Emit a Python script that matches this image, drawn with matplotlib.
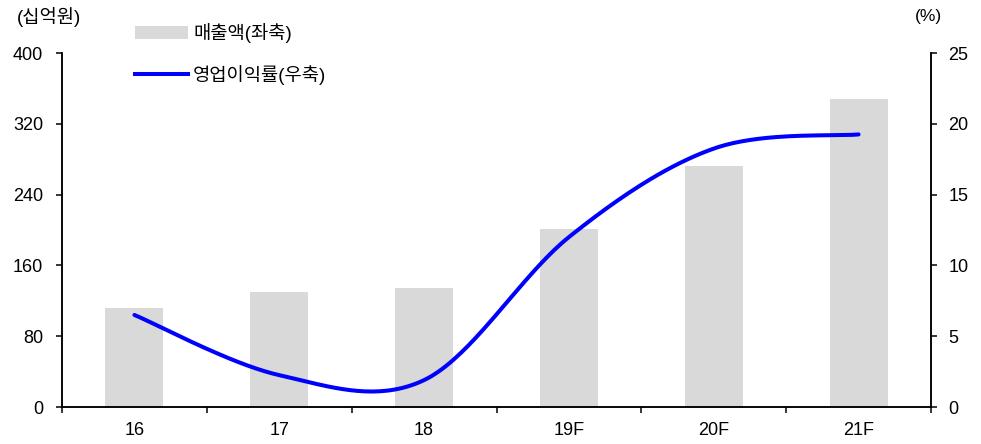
import numpy as np
import matplotlib
matplotlib.use('Agg')
import matplotlib.pyplot as plt
from matplotlib.patches import Patch
from matplotlib.lines import Line2D

plt.rcParams['font.family'] = ['Liberation Sans', 'Noto Sans CJK KR', 'DejaVu Sans']

years = ['16', '17', '18', '19F', '20F', '21F']
sales = [112, 130, 134.5, 201, 272, 348]          # 매출액, 십억원
margin = [6.5, 2.25, 1.9, 12.0, 18.25, 19.25]      # 영업이익률, %


def smooth(xs, ys, n=40):
    # catmull-rom style smoothing like excel's smoothed line
    xs = np.asarray(xs, float)
    ys = np.asarray(ys, float)
    px = np.concatenate([[xs[0]], xs, [xs[-1]]])
    py = np.concatenate([[ys[0]], ys, [ys[-1]]])
    outx, outy = [], []
    t = np.linspace(0, 1, n)
    for i in range(1, len(px) - 2):
        mx0 = (px[i + 1] - px[i - 1]) / 2
        mx1 = (px[i + 2] - px[i]) / 2
        my0 = (py[i + 1] - py[i - 1]) / 2
        my1 = (py[i + 2] - py[i]) / 2
        h00 = 2 * t**3 - 3 * t**2 + 1
        h10 = t**3 - 2 * t**2 + t
        h01 = -2 * t**3 + 3 * t**2
        h11 = t**3 - t**2
        outx.extend(h00 * px[i] + h10 * mx0 + h01 * px[i + 1] + h11 * mx1)
        outy.extend(h00 * py[i] + h10 * my0 + h01 * py[i + 1] + h11 * my1)
    return np.array(outx), np.array(outy)


fig = plt.figure(figsize=(9.81, 4.44), dpi=100)
ax = fig.add_axes([62 / 981, 1 - 407 / 444, (931 - 62) / 981, (407 - 53) / 444])
ax2 = ax.twinx()

x = np.arange(len(years))
ax.bar(x, sales, width=0.4, color='#d9d9d9', zorder=1)

sx, sy = smooth(x, margin)
ax2.plot(sx, sy, color='#0000ff', lw=2.9, solid_capstyle='round')

ax.set_xlim(-0.5, 5.5)
ax.set_ylim(0, 400)
ax.set_yticks(np.arange(0, 401, 80))
ax2.set_ylim(0, 25)
ax2.set_yticks(np.arange(0, 26, 5))

ax.set_xticks(np.arange(-0.5, 5.6, 1))
ax.set_xticklabels([])
ax.set_xticks(x, minor=True)
ax.set_xticklabels(years, minor=True)
ax.tick_params(axis='x', which='major', direction='out', length=4.5, width=1.1)
ax.tick_params(axis='x', which='minor', length=0, pad=11, labelsize=13)
ax.tick_params(axis='y', direction='out', length=4.5, width=1.1, pad=9, labelsize=13)
ax2.tick_params(axis='y', direction='out', length=4.5, width=1.1, pad=8, labelsize=13)

for a in (ax, ax2):
    a.spines['top'].set_visible(False)
    for s in ('left', 'right', 'bottom'):
        a.spines[s].set_linewidth(1.1)

fig.text(17 / 981, 1 - 17 / 444, '(십억원)', fontsize=13.5, va='center', ha='left')
fig.text(928 / 981, 1 - 17 / 444, '(%)', fontsize=12.5, va='center', ha='center')

handles = [Patch(facecolor='#d9d9d9', edgecolor='none'),
           Line2D([], [], color='#0000ff', lw=2.9)]
labels = ['매출액(좌축)', '영업이익률(우축)']
fig.legend(handles, labels, loc='upper left', bbox_to_anchor=(135 / 981, 1 - 23 / 444),
           frameon=False, fontsize=13.5, handlelength=2.85, handleheight=0.7,
           handletextpad=0.25, labelspacing=1.15, borderpad=0, borderaxespad=0)

fig.savefig('out.png', dpi=100)
